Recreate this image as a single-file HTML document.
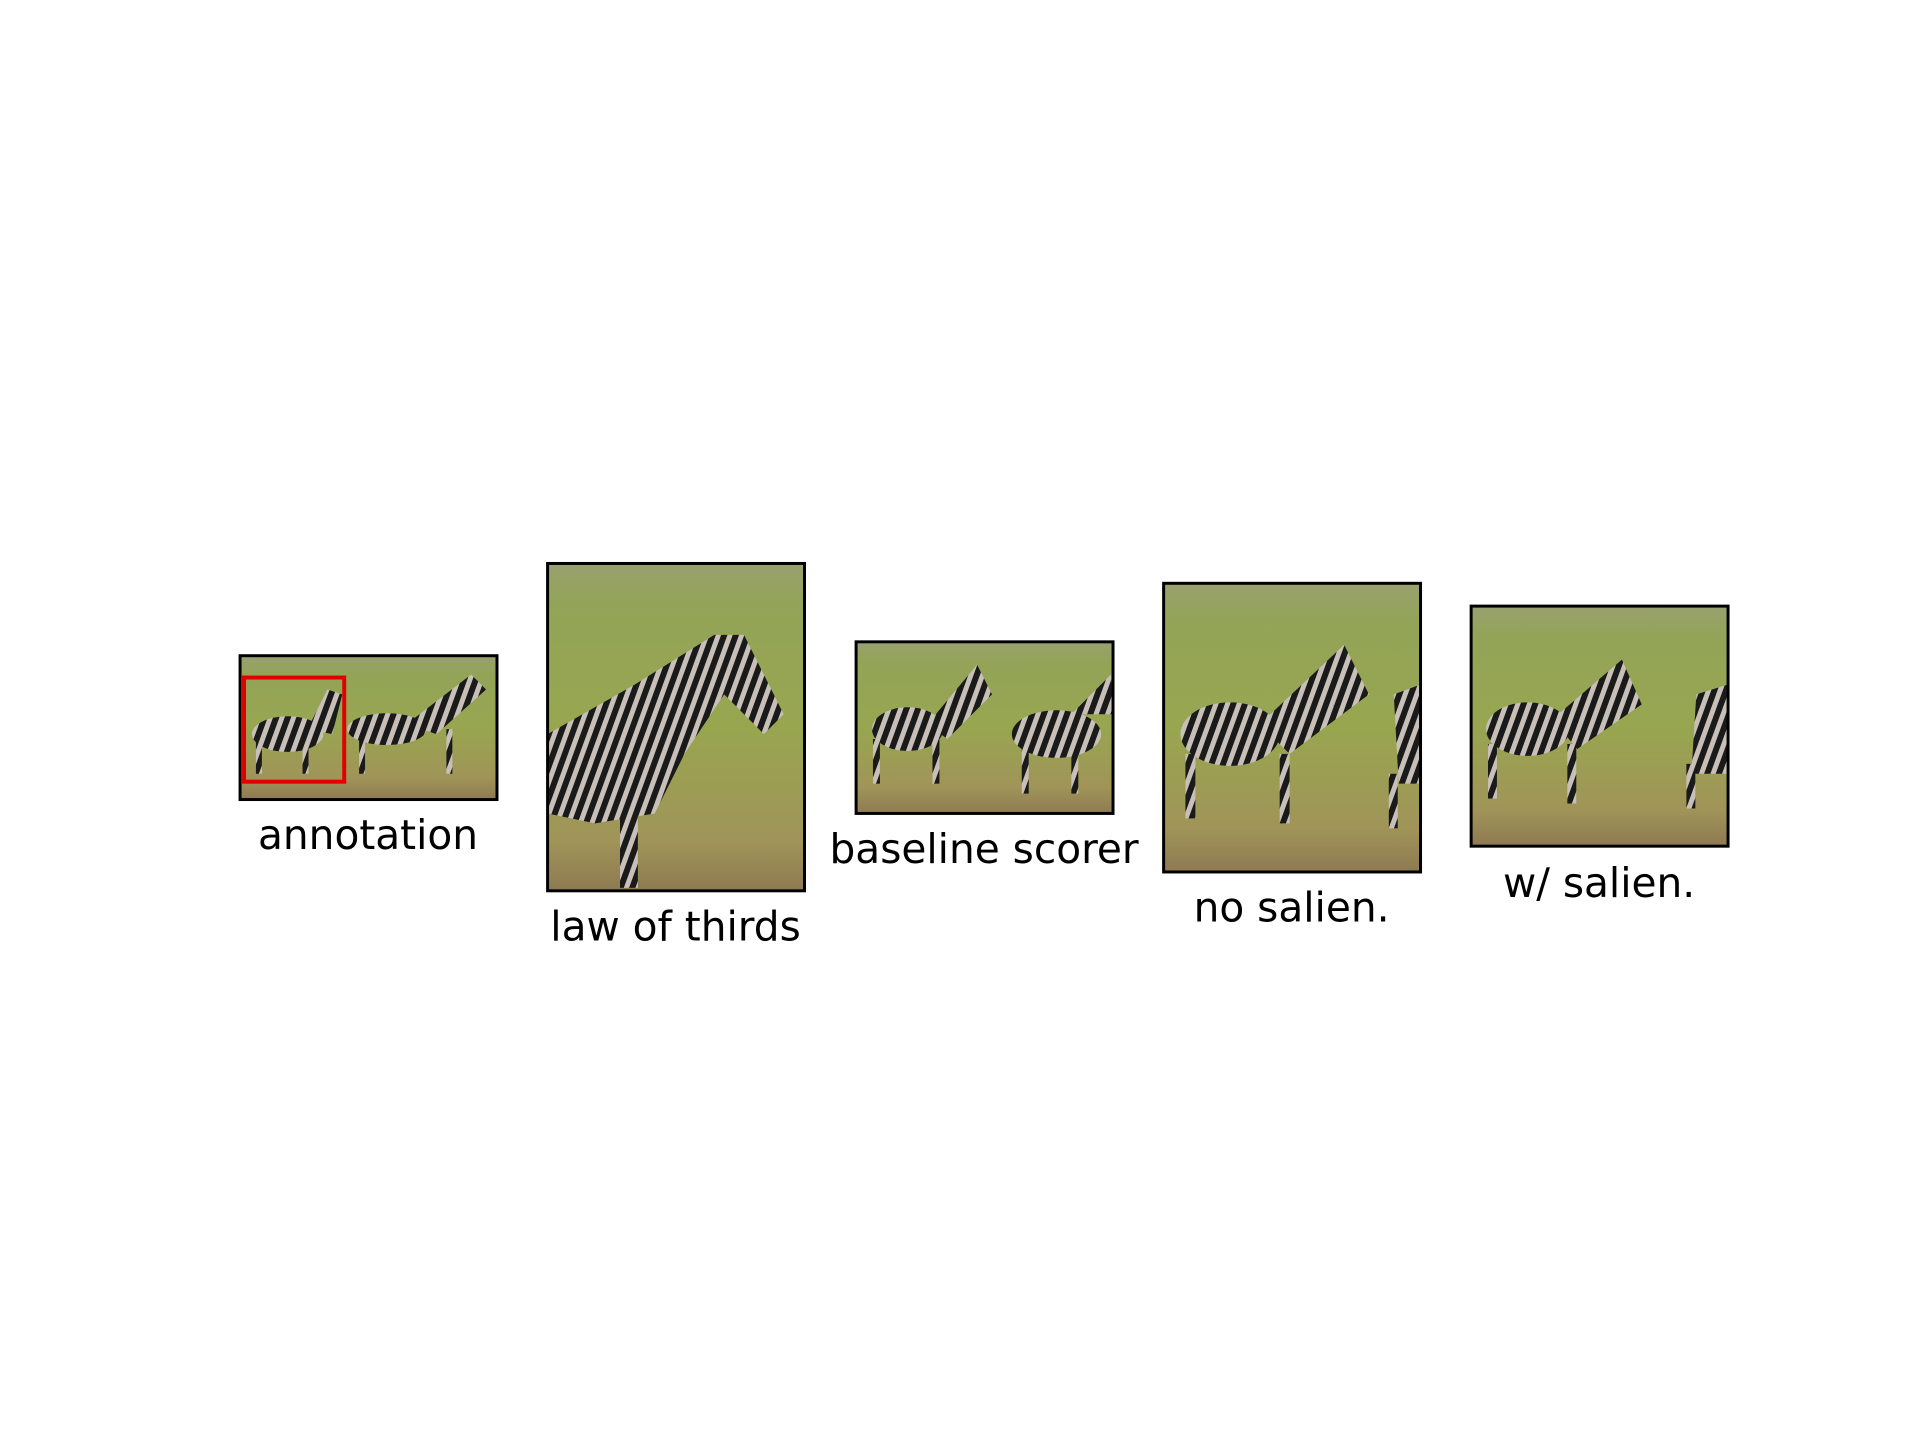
<!DOCTYPE html>
<html><head><meta charset="utf-8"><style>
html,body{margin:0;padding:0;background:#fff;width:1920px;height:1440px;overflow:hidden}
svg text{font-family:"DejaVu Sans","Liberation Sans",sans-serif;font-size:41px;fill:#000}
</style></head><body>
<svg width="1920" height="1440" viewBox="0 0 1920 1440">
<defs>
<linearGradient id="grass" x1="0" y1="0" x2="0" y2="1">
<stop offset="0" stop-color="#9aa070"/><stop offset="0.12" stop-color="#93a458"/><stop offset="0.5" stop-color="#98a650"/><stop offset="0.85" stop-color="#a09458"/><stop offset="1" stop-color="#8e7a52"/>
</linearGradient>
<pattern id="stripes" width="11" height="11" patternUnits="userSpaceOnUse" patternTransform="rotate(20)">
<rect width="11" height="11" fill="#c8c0b8"/><rect width="6" height="11" fill="#1a1a1a"/>
</pattern>
</defs>
<g transform="scale(0.992)">
<!-- annotation -->
<g>
<rect x="242" y="661" width="259" height="145" fill="url(#grass)"/>
<g fill="url(#stripes)">
<ellipse cx="290" cy="740" rx="36" ry="18"/><path d="M310 735 L330 695 L345 700 L335 740Z"/><rect x="258" y="745" width="6" height="35"/><rect x="305" y="745" width="6" height="35"/>
<ellipse cx="390" cy="735" rx="40" ry="16"/><path d="M410 730 L475 680 L490 695 L440 740Z"/><rect x="362" y="740" width="6" height="40"/><rect x="450" y="735" width="6" height="45"/>
</g>
<rect x="246" y="683" width="101" height="105" fill="none" stroke="#e00000" stroke-width="4"/>
<rect x="242" y="661" width="259" height="145" fill="none" stroke="#000" stroke-width="3"/>
<text x="371" y="856" text-anchor="middle">annotation</text>
</g>

<!-- law of thirds -->
<g>
<rect x="552" y="568" width="259" height="330" fill="url(#grass)"/>
<g fill="url(#stripes)">
<path d="M552 740 L640 690 L720 640 L750 640 L790 720 L770 740 L730 700 L690 760 L660 820 L600 830 L552 820Z"/>
<rect x="625" y="820" width="18" height="75"/>
</g>
<rect x="552" y="568" width="259" height="330" fill="none" stroke="#000" stroke-width="3"/>
<text x="681" y="948" text-anchor="middle">law of thirds</text>
</g>

<!-- baseline scorer -->
<g>
<rect x="863" y="647" width="259" height="173" fill="url(#grass)"/>
<g fill="url(#stripes)">
<ellipse cx="915" cy="735" rx="36" ry="22"/><path d="M935 730 L985 670 L1000 700 L955 745Z"/><rect x="880" y="745" width="7" height="45"/><rect x="940" y="745" width="7" height="45"/>
<ellipse cx="1065" cy="740" rx="45" ry="24"/><path d="M1080 720 L1120 680 L1122 720Z"/><rect x="1030" y="755" width="7" height="45"/><rect x="1080" y="755" width="7" height="45"/>
</g>
<rect x="863" y="647" width="259" height="173" fill="none" stroke="#000" stroke-width="3"/>
<text x="992" y="870" text-anchor="middle">baseline scorer</text>
</g>

<!-- no salien -->
<g>
<rect x="1173" y="588" width="259" height="291" fill="url(#grass)"/>
<g fill="url(#stripes)">
<ellipse cx="1240" cy="740" rx="50" ry="32"/><path d="M1270 730 L1355 650 L1380 700 L1300 760Z"/><rect x="1195" y="760" width="10" height="65"/><rect x="1290" y="760" width="10" height="70"/>
<path d="M1405 700 L1432 690 L1432 790 L1410 790Z"/><rect x="1400" y="780" width="9" height="55"/>
</g>
<rect x="1173" y="588" width="259" height="291" fill="none" stroke="#000" stroke-width="3"/>
<text x="1302" y="929" text-anchor="middle">no salien.</text>
</g>

<!-- w/ salien -->
<g>
<rect x="1483" y="611" width="259" height="242" fill="url(#grass)"/>
<g fill="url(#stripes)">
<ellipse cx="1540" cy="735" rx="42" ry="27"/><path d="M1565 725 L1635 665 L1655 710 L1590 755Z"/><rect x="1500" y="750" width="9" height="55"/><rect x="1580" y="750" width="9" height="60"/>
<path d="M1710 700 L1742 690 L1742 780 L1705 780Z"/><rect x="1700" y="770" width="9" height="45"/>
</g>
<rect x="1483" y="611" width="259" height="242" fill="none" stroke="#000" stroke-width="3"/>
<text x="1612" y="904" text-anchor="middle">w/ salien.</text>
</g>
</g>
</svg>
</body></html>
